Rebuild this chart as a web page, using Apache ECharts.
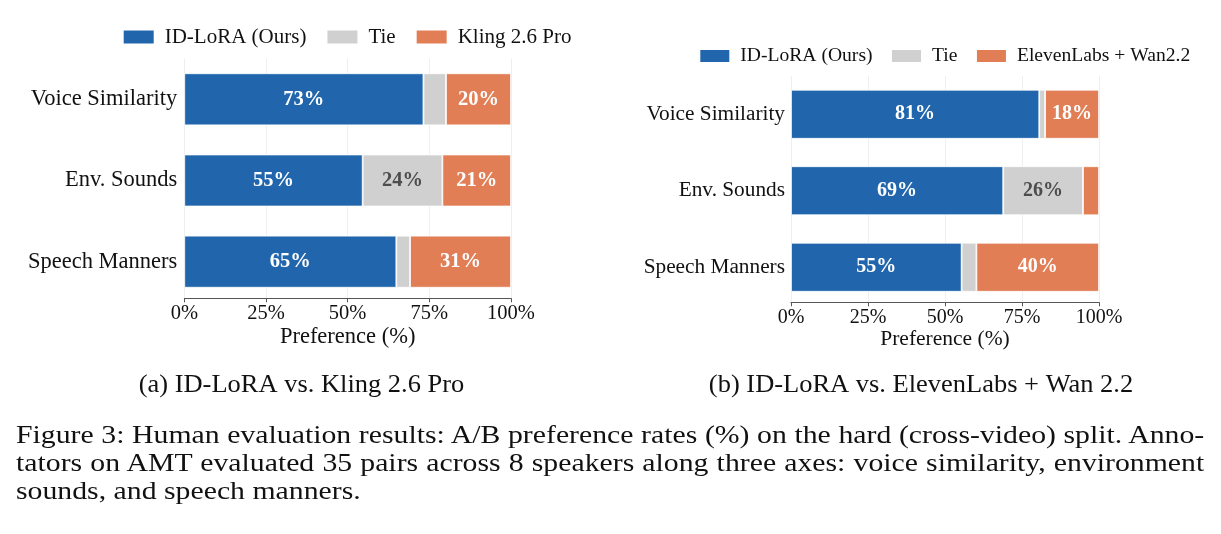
<!DOCTYPE html>
<html>
<head>
<meta charset="utf-8">
<script src="https://cdn.jsdelivr.net/npm/echarts@6/dist/echarts.min.js"></script>
<style>
  body { margin: 0; background: #fff; }
  #fig { position: absolute; left: 0; top: 0; width: 1221px; height: 534px; }
  .cap {
    position: absolute; left: 15.7px;
    font-family: 'Liberation Serif', serif; font-size: 24.3px; line-height: 24.3px;
    color: #111; white-space: nowrap;
    transform: scaleX(1.225); transform-origin: left top;
  }
  .just { width: 970px; text-align: justify; text-align-last: justify; }
</style>
</head>
<body>
<div id="fig"></div>
<div class="cap just" style="top:422.6px">Figure 3: Human evaluation results: A/B preference rates (%) on the hard (cross-video) split. Anno-</div>
<div class="cap just" style="top:450.6px">tators on AMT evaluated 35 pairs across 8 speakers along three axes: voice similarity, environment</div>
<div class="cap" style="top:478.6px">sounds, and speech manners.</div>
<script>
const categories = ['Voice Similarity', 'Env. Sounds', 'Speech Manners'];
const xTicks = [0, 25, 50, 75, 100];

// (a) ID-LoRA vs. Kling 2.6 Pro
const oursA = [73.2, 54.6, 64.9];
const tieA = [6.9, 24.4, 4.2];
const klingA = [19.9, 21.0, 30.9];

// (b) ID-LoRA vs. ElevenLabs + Wan 2.2
const oursB = [80.6, 68.9, 55.4];
const tieB = [1.9, 25.9, 4.8];
const elevenB = [17.5, 5.2, 39.8];

const serif = 'Liberation Serif';
const blue = '#2166ac';
const gray = '#d0d0d0';
const orange = '#e27e56';

const fig = document.getElementById('fig');
const fig_chart = echarts.init(fig);

const barSeries = (name, data, idx, color, labelColor, fontSize, barWidth) => ({
    type: 'bar',
    name: name,
    data: data,
    stack: 'st' + idx,
    xAxisIndex: idx,
    yAxisIndex: idx,
    barWidth: barWidth,
    itemStyle: { color: color, borderColor: '#fff', borderWidth: 0.8 },
    label: {
        show: true,
        position: 'inside',
        formatter: (p) => p.value >= 10 ? Math.round(p.value) + '%' : '',
        color: labelColor,
        fontFamily: serif,
        fontWeight: 'bold',
        fontSize: fontSize
    }
});

const valueAxis = (idx, offset, tickSize, nameSize, nameGap) => ({
    type: 'value',
    gridIndex: idx,
    min: xTicks[0],
    max: xTicks[xTicks.length - 1],
    interval: xTicks[1] - xTicks[0],
    offset: offset,
    name: 'Preference (%)',
    nameLocation: 'middle',
    nameGap: nameGap,
    nameTextStyle: { fontFamily: serif, fontSize: nameSize, color: '#111' },
    axisLine: { show: true, lineStyle: { color: '#555', width: 1 } },
    axisTick: { show: true, length: 4, lineStyle: { color: '#555' } },
    axisLabel: {
        formatter: '{value}%',
        fontFamily: serif,
        fontSize: tickSize,
        color: '#111',
        margin: 5
    },
    splitLine: { show: true, lineStyle: { color: '#efefef', width: 1 } }
});

const catAxis = (idx, fontSize, margin) => ({
    type: 'category',
    gridIndex: idx,
    data: categories,
    inverse: true,
    axisLine: { show: false },
    axisTick: { show: false },
    axisLabel: { fontFamily: serif, fontSize: fontSize, color: '#111', margin: margin }
});

let option = {
    animation: false,
    backgroundColor: '#fff',
    grid: [
        { left: 184.3, top: 58.7, width: 326.7, height: 243.6 },
        { left: 791, top: 76, width: 308, height: 229.5 }
    ],
    legend: [
        {
            data: ['ID-LoRA (Ours)', 'Tie', 'Kling 2.6 Pro'],
            left: 121.7, top: 26.5, padding: 0,
            icon: 'rect', itemWidth: 32, itemHeight: 15, itemGap: 19,
            selectedMode: false,
            textStyle: { fontFamily: serif, fontSize: 21, color: '#111', padding: [0, 0, 0, 5] }
        },
        {
            data: ['ID-LoRA (Ours)', 'Tie', 'ElevenLabs + Wan2.2'],
            left: 698.3, top: 46, padding: 0,
            icon: 'rect', itemWidth: 31, itemHeight: 14, itemGap: 17.5,
            selectedMode: false,
            textStyle: { fontFamily: serif, fontSize: 19.6, color: '#111', padding: [0, 0, 0, 5] }
        }
    ],
    xAxis: [
        valueAxis(0, -4, 20.5, 22.5, 25),
        valueAxis(1, -3.2, 20, 21.5, 24)
    ],
    yAxis: [
        catAxis(0, 22.5, 7),
        catAxis(1, 21.3, 6)
    ],
    series: [
        barSeries('ID-LoRA (Ours)', oursA, 0, blue, '#fff', 20.5, 52),
        barSeries('Tie', tieA, 0, gray, '#4d4d4d', 20.5, 52),
        barSeries('Kling 2.6 Pro', klingA, 0, orange, '#fff', 20.5, 52),
        barSeries('ID-LoRA (Ours)', oursB, 1, blue, '#fff', 20, 49),
        barSeries('Tie', tieB, 1, gray, '#4d4d4d', 20, 49),
        barSeries('ElevenLabs + Wan2.2', elevenB, 1, orange, '#fff', 20, 49)
    ],
    graphic: [
        {
            type: 'text', x: 301.5, y: 385.6, scaleX: 1.08,
            style: {
                text: '(a) ID-LoRA vs. Kling 2.6 Pro',
                fill: '#111', font: '24.5px "Liberation Serif"',
                textAlign: 'center', textVerticalAlign: 'middle'
            }
        },
        {
            type: 'text', x: 921, y: 385.6, scaleX: 1.08,
            style: {
                text: '(b) ID-LoRA vs. ElevenLabs + Wan 2.2',
                fill: '#111', font: '24.5px "Liberation Serif"',
                textAlign: 'center', textVerticalAlign: 'middle'
            }
        }
    ]
};

if (option && typeof option === 'object') {
    fig_chart.setOption(option);
}
</script>
</body>
</html>
